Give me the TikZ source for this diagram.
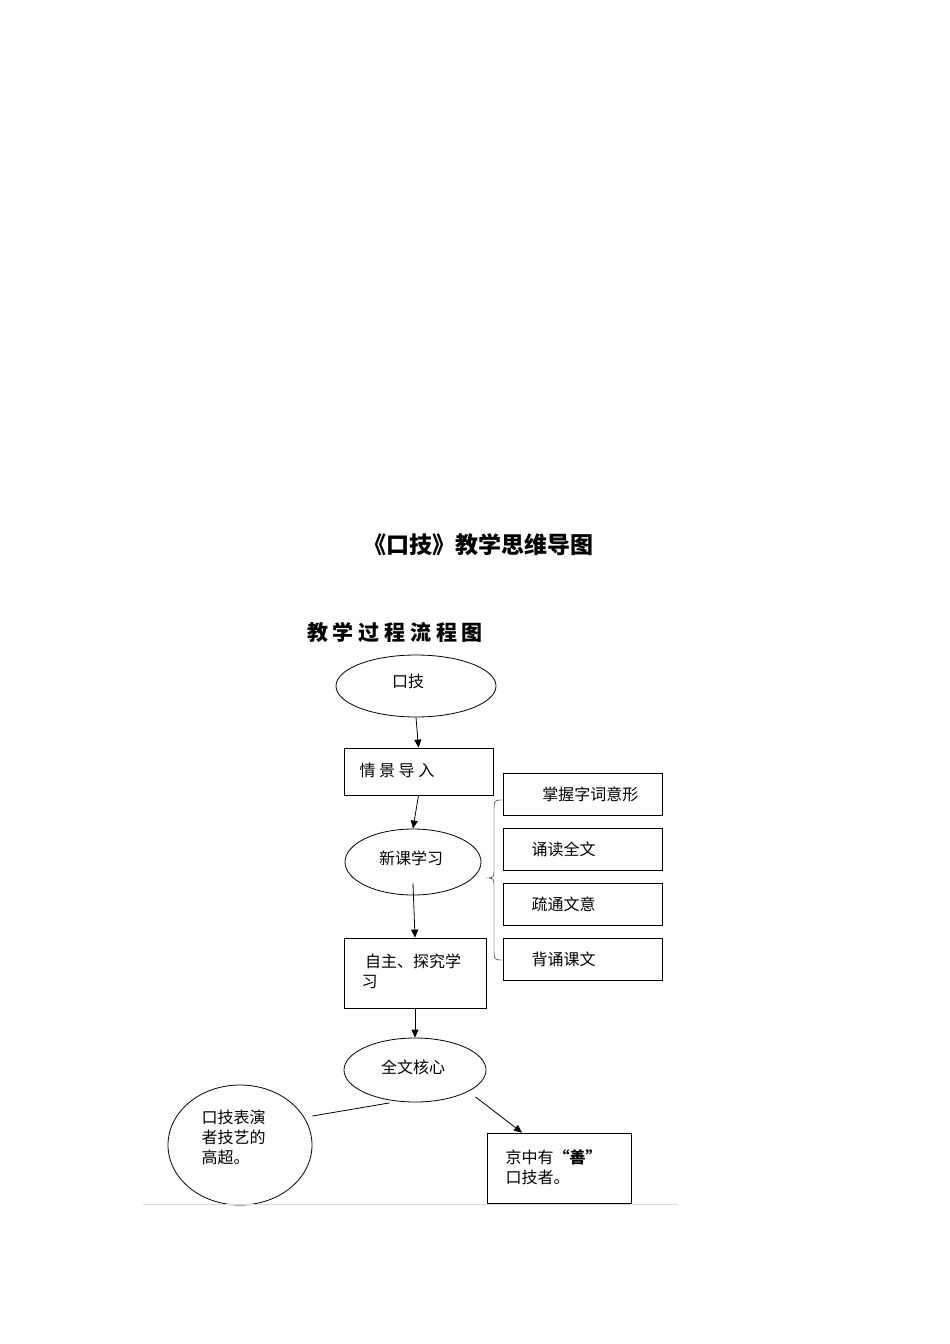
\documentclass[tikz,border=0pt]{standalone}
\usepackage{fontspec}
\setmainfont{Noto Sans CJK SC}
\usetikzlibrary{shapes.geometric,arrows.meta}
\begin{document}
\begin{tikzpicture}[x=1pt,y=-1pt,
  ell/.style={draw,thick,ellipse,minimum width=#1,inner sep=0pt},
  bx/.style={draw,thick,rectangle,inner sep=0pt},
  arr/.style={thick,-{Triangle[length=8pt,width=7pt]}},
  t/.style={font=\fontsize{16}{20}\selectfont}]
\useasboundingbox (0,0) rectangle (950,1344);
\node (title) at (478,545) {\fontsize{23}{26}\selectfont\bfseries 《口技》教学思维导图};
\node (sub) at (395,632) {\fontsize{21}{24}\selectfont\bfseries 教\ 学\ 过\ 程\ 流\ 程\ 图};
\node[ell=160pt,minimum height=62pt] (kj) at (416,686) {};
\node[t] at (408,681) {口技};
\node[bx,minimum width=149pt,minimum height=47pt] (qj) at (418.5,771.5) {};
\node[t,anchor=west] at (356,770) {情\ 景\ 导\ 入};
\node[ell=136pt,minimum height=66pt] (xk) at (413,862) {};
\node[t] at (411,858) {新课学习};
\node[bx,minimum width=142pt,minimum height=70pt] (zz) at (415,973) {};
\node[t,anchor=north west,align=left] at (358,950) {\ 自主、探究学\\习};
\node[ell=142pt,minimum height=64pt] (qw) at (415,1070) {};
\node[t] at (413,1067) {全文核心};
\node[ell=144pt,minimum height=120pt] (kb) at (240,1145) {};
\node[t,anchor=north west,align=left] at (198,1106) {口技表演\\者技艺的\\高超。};
\node[bx,minimum width=144pt,minimum height=70pt] (jz) at (559,1168) {};
\node[t,anchor=north west,align=left] at (502,1146) {京中有\textbf{“善”}\\口技者。};
\foreach \n/\y/\s in {b1/794/\ \ \ 掌握字词意形, b2/849/诵读全文, b3/904/疏通文意, b4/959/背诵课文}{
  \node[bx,minimum width=159pt,minimum height=42pt] (\n) at (582.5,\y) {};
  \node[t,anchor=west] at (528,\y) {\s};
}
\draw[arr] (kj.south) -- (qj.north);
\draw[arr] (qj.south) -- (xk.north);
\draw[arr] ([yshift=12pt]xk.south) -- (zz.north);
\draw[arr] (zz.south) -- (qw.north);
\draw[thick] (qw.south west) ++(25,10) -- (kb.east |- 0,1116) coordinate (ke);
\draw[arr] ([xshift=10pt,yshift=-4pt]qw.south east) -- (jz.north west -| 522,0);
\coordinate (bt) at (503,800); \coordinate (bb) at (503,960);
\draw[thin] (bt) .. controls (494,800) .. (494,812) -- (494,868) .. controls (494,878) .. (486,878)
  .. controls (494,878) .. (494,888) -- (494,948) .. controls (494,960) .. (bb);
\draw[gray!30,thick] (143,1204) -- (678,1204);
\end{tikzpicture}
\end{document}
